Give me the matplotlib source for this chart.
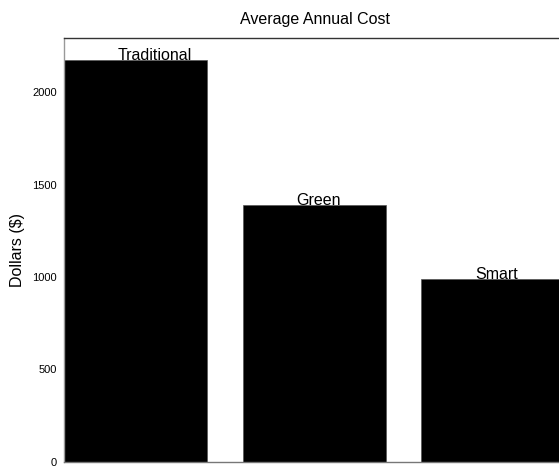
import matplotlib
matplotlib.use("Agg")
import matplotlib.pyplot as plt

categories = ["Traditional", "Green", "Smart"]
values = [2175, 1390, 990]
yticks = [0, 500, 1000, 1500, 2000]

plt.rcParams['font.family'] = ['Liberation Sans', 'DejaVu Sans']

fig = plt.figure(figsize=(5.59, 4.66), dpi=100)
ax = fig.add_axes([64/559, 4.5/466, 502/559, (461.5-38)/466])

x = list(range(len(categories)))
ax.bar(x, values, width=0.8, color='black', edgecolor='#555555', linewidth=0.5)
for xi, v, c in zip(x, values, categories):
    ax.text(xi - 0.1, v, c, ha='left', va='baseline', fontsize=11.5)

ax.set_xlim(-0.4, 2.41)
ax.set_ylim(0, 2294)
ax.set_xticks([])
ax.set_yticks(yticks)
ax.set_yticklabels([str(t) for t in yticks], fontsize=8)
ax.tick_params(axis='y', length=0, pad=5)
ax.set_ylabel("Dollars ($)", fontsize=11.5, labelpad=5)
ax.set_title("Average Annual Cost", fontsize=11.5, pad=10)
for s in ax.spines.values():
    s.set_color('#333333')
    s.set_linewidth(1)
ax.spines['left'].set_color('#999999')
ax.spines['bottom'].set_color('#777777')

fig.savefig("out.png", dpi=100)
